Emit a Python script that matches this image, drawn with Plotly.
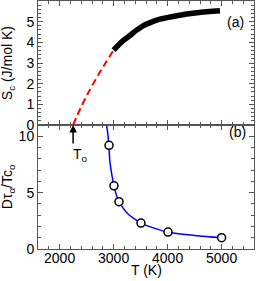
import plotly.graph_objects as go

# Panel (a): configurational entropy
T_dash = [2250, 2400, 2550, 2700, 2850, 3000]
Sc_dash = [0.0, 0.88, 1.65, 2.35, 3.0, 3.62]
T_solid = [3000, 3100, 3200, 3304, 3420, 3544, 3700, 3859, 4174, 4544, 4970]
Sc_solid = [3.62, 3.9, 4.13, 4.33, 4.58, 4.8, 4.98, 5.12, 5.29, 5.43, 5.53]

# Panel (b): scaled relaxation
T_pts = [2915, 3007, 3100, 3507, 4007, 5000]
D_pts = [9.2, 5.6, 4.2, 2.3, 1.5, 1.0]
T_fit = [2870, 2900, 2933, 2970, 3007, 3050, 3100, 3180, 3267, 3380, 3507, 3750, 4007, 4500, 5000]
D_fit = [11.0, 9.9, 7.7, 6.5, 5.6, 4.8, 4.2, 3.6, 3.1, 2.7, 2.3, 1.85, 1.5, 1.2, 1.0]

x_ticks = [2000, 3000, 4000, 5000]
ya_ticks = [0, 1, 2, 3, 4, 5]
yb_ticks = [0, 5, 10]

FONT = "Liberation Sans, Arial, sans-serif"
AX = "#555555"

fig = go.Figure()
fig.add_trace(go.Scatter(x=T_dash, y=Sc_dash, mode="lines", xaxis="x2", yaxis="y2",
                         line=dict(color="#ff0000", width=2, dash="7px,4px", shape="spline")))
fig.add_trace(go.Scatter(x=T_solid, y=Sc_solid, mode="lines", xaxis="x2", yaxis="y2",
                         line=dict(color="black", width=5.5, shape="spline")))
fig.add_trace(go.Scatter(x=T_fit, y=D_fit, mode="lines", xaxis="x", yaxis="y",
                         line=dict(color="#0000ff", width=1.5, shape="spline")))
fig.add_trace(go.Scatter(x=T_pts, y=D_pts, mode="markers", xaxis="x", yaxis="y",
                         marker=dict(symbol="circle", size=8, color="white",
                                     line=dict(color="black", width=1.5))))

common_x = dict(range=[1600, 5600], ticks="inside", ticklen=5, tickcolor=AX,
                showline=True, linecolor=AX, linewidth=1, mirror="ticks",
                showgrid=False, zeroline=False, tickvals=x_ticks,
                minor=dict(ticks="inside", ticklen=3, dtick=200, tick0=0, tickcolor=AX))
fig.update_layout(
    width=256, height=281,
    margin=dict(l=38, r=2, t=1, b=32),
    plot_bgcolor="white", paper_bgcolor="white",
    showlegend=False,
    font=dict(family=FONT, size=14, color="black"),
    xaxis=dict(**common_x, domain=[0, 1], anchor="y", tickfont=dict(size=14),
               ticklabelstandoff=-4),
    xaxis2=dict(**common_x, domain=[0, 1], anchor="y2", showticklabels=False, matches="x"),
    yaxis=dict(domain=[0, 0.5], range=[0, 11], tickvals=yb_ticks, ticks="inside", ticklen=5,
               tickcolor=AX, showline=True, linecolor=AX, mirror="ticks", showgrid=False,
               zeroline=False, anchor="x", tickfont=dict(size=14),
               minor=dict(ticks="inside", ticklen=3, dtick=1, tickcolor=AX)),
    yaxis2=dict(domain=[0.5, 1], range=[0, 6], tickvals=ya_ticks, ticks="inside", ticklen=5,
                tickcolor=AX, showline=True, linecolor=AX, mirror="ticks", showgrid=False,
                zeroline=False, anchor="x2", tickfont=dict(size=14),
                minor=dict(ticks="inside", ticklen=3, dtick=0.2, tickcolor=AX)),
)

annotations = [
    dict(text="S<sub>c</sub> (J/mol K)", xref="paper", yref="paper", x=-0.138, y=0.75,
         xanchor="center", yanchor="middle",
         textangle=-90, showarrow=False, font=dict(size=14)),
    dict(text="Dτ<sub>α</sub>/Tc<sub>o</sub>", xref="paper", yref="paper", x=-0.138, y=0.25,
         xanchor="center", yanchor="middle",
         textangle=-90, showarrow=False, font=dict(size=14)),
    dict(text="T (K)", xref="paper", yref="paper", x=0.5, y=-0.086, xanchor="center",
         yanchor="middle", showarrow=False, font=dict(size=14)),
    dict(text="(a)", xref="x2", yref="y2", x=5250, y=5.0, showarrow=False, font=dict(size=14)),
    dict(text="(b)", xref="x", yref="y", x=5300, y=10.4, showarrow=False, font=dict(size=14)),
    dict(text="", xref="x", yref="y", x=2250, y=11, ax=0, ay=20, showarrow=True,
         arrowhead=2, arrowsize=1, arrowwidth=1.5, arrowcolor="black"),
    dict(text="T<sub>o</sub>", xref="x", yref="y", x=2380, y=8.3, showarrow=False,
         font=dict(size=14)),
]
fig.update_layout(annotations=annotations)

fig.write_html("out.html", post_script="document.body.style.margin='0';",
               config={"displayModeBar": False})
